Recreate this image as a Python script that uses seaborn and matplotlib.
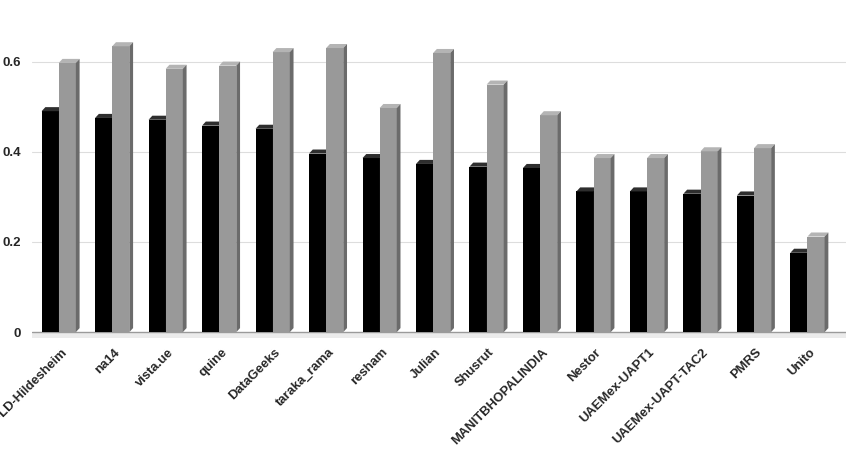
import pandas as pd
import seaborn as sns
import matplotlib.pyplot as plt
import matplotlib.transforms as mtransforms
from matplotlib.patches import Polygon

sns.set_theme(style="white")
plt.rcParams["font.family"] = ["Liberation Sans", "DejaVu Sans"]

# values
teams = ["Bauer-LD-Hildesheim", "na14", "vista.ue", "quine", "DataGeeks", "taraka_rama",
         "resham", "Julian", "Shusrut", "MANITBHOPALINDIA", "Nestor", "UAEMex-UAPT1",
         "UAEMex-UAPT-TAC2", "PMRS", "Unito"]
series_1 = [0.490, 0.475, 0.471, 0.458, 0.451, 0.396, 0.386, 0.373, 0.367, 0.364,
            0.312, 0.312, 0.307, 0.303, 0.176]
series_2 = [0.597, 0.634, 0.584, 0.591, 0.621, 0.630, 0.497, 0.619, 0.549, 0.481,
            0.386, 0.386, 0.401, 0.408, 0.212]
series_names = ["Series 1", "Series 2"]
yticks = [0, 0.2, 0.4, 0.6]
ytick_labels = ["0", "0.2", "0.4", "0.6"]

df = pd.DataFrame({
    "team": teams * 2,
    "value": series_1 + series_2,
    "series": [series_names[0]] * len(teams) + [series_names[1]] * len(teams),
})

fig = plt.figure(figsize=(8.55, 4.5), dpi=100)
ax = fig.add_axes([32 / 855, 1 - 338 / 450, 814 / 855, (338 - 16.5) / 450])

sns.barplot(data=df, x="team", y="value", hue="series", order=teams,
            palette=["#000000", "#999999"], saturation=1, width=0.64, gap=0,
            legend=False, ax=ax)

ax.set_xlim(-0.5, 14.72)
ax.set_ylim(-0.013, 0.7)

# 3D look: top and side faces taken from the bars seaborn drew
dx, dy = 0.07, 0.009
face_cols = {"#000000": ("#2e2e2e", "#1a1a1a"), "#999999": ("#b4b4b4", "#6b6b6b")}
bars = [p for p in ax.patches if p.get_height() > 0]
for p in bars:
    x0, w, h = p.get_x(), p.get_width(), p.get_height()
    r, g, b, _ = p.get_facecolor()
    key = "#000000" if r < 0.3 else "#999999"
    z = 2 if key == "#000000" else 3
    p.set_zorder(z)
    p.set_edgecolor("none")
    top_c, side_c = face_cols[key]
    ax.add_patch(Polygon([(x0, h), (x0 + dx, h + dy), (x0 + w + dx, h + dy), (x0 + w, h)],
                         closed=True, facecolor=top_c, edgecolor="none", zorder=z))
    ax.add_patch(Polygon([(x0 + w, 0), (x0 + w + dx, dy), (x0 + w + dx, h + dy), (x0 + w, h)],
                         closed=True, facecolor=side_c, edgecolor="none", zorder=z))

# floor and gridlines
ax.axhspan(-0.013, 0, color="#ebebeb", zorder=0.5, lw=0)
for yv in yticks[1:]:
    ax.axhline(yv, color="#dddddd", lw=0.8, zorder=0.5)
ax.axhline(0, color="#9a9a9a", lw=1.0, zorder=1)

ax.set_yticks(yticks)
ax.set_yticklabels(ytick_labels, fontsize=9.5, fontweight="bold")
ax.tick_params(axis="y", length=0, pad=8)
ax.tick_params(axis="x", length=0, pad=9)
ax.set_xticks(range(len(teams)))
ax.set_xticklabels(teams, rotation=45, ha="right", va="center",
                   rotation_mode="anchor", fontsize=9.4, fontweight="bold")
offset = mtransforms.ScaledTranslation(6 / 100, 0, fig.dpi_scale_trans)
for lab in ax.get_xticklabels():
    lab.set_transform(lab.get_transform() + offset)

ax.set_xlabel("")
ax.set_ylabel("")
for s in ax.spines.values():
    s.set_visible(False)

fig.savefig("out.png", dpi=100)
